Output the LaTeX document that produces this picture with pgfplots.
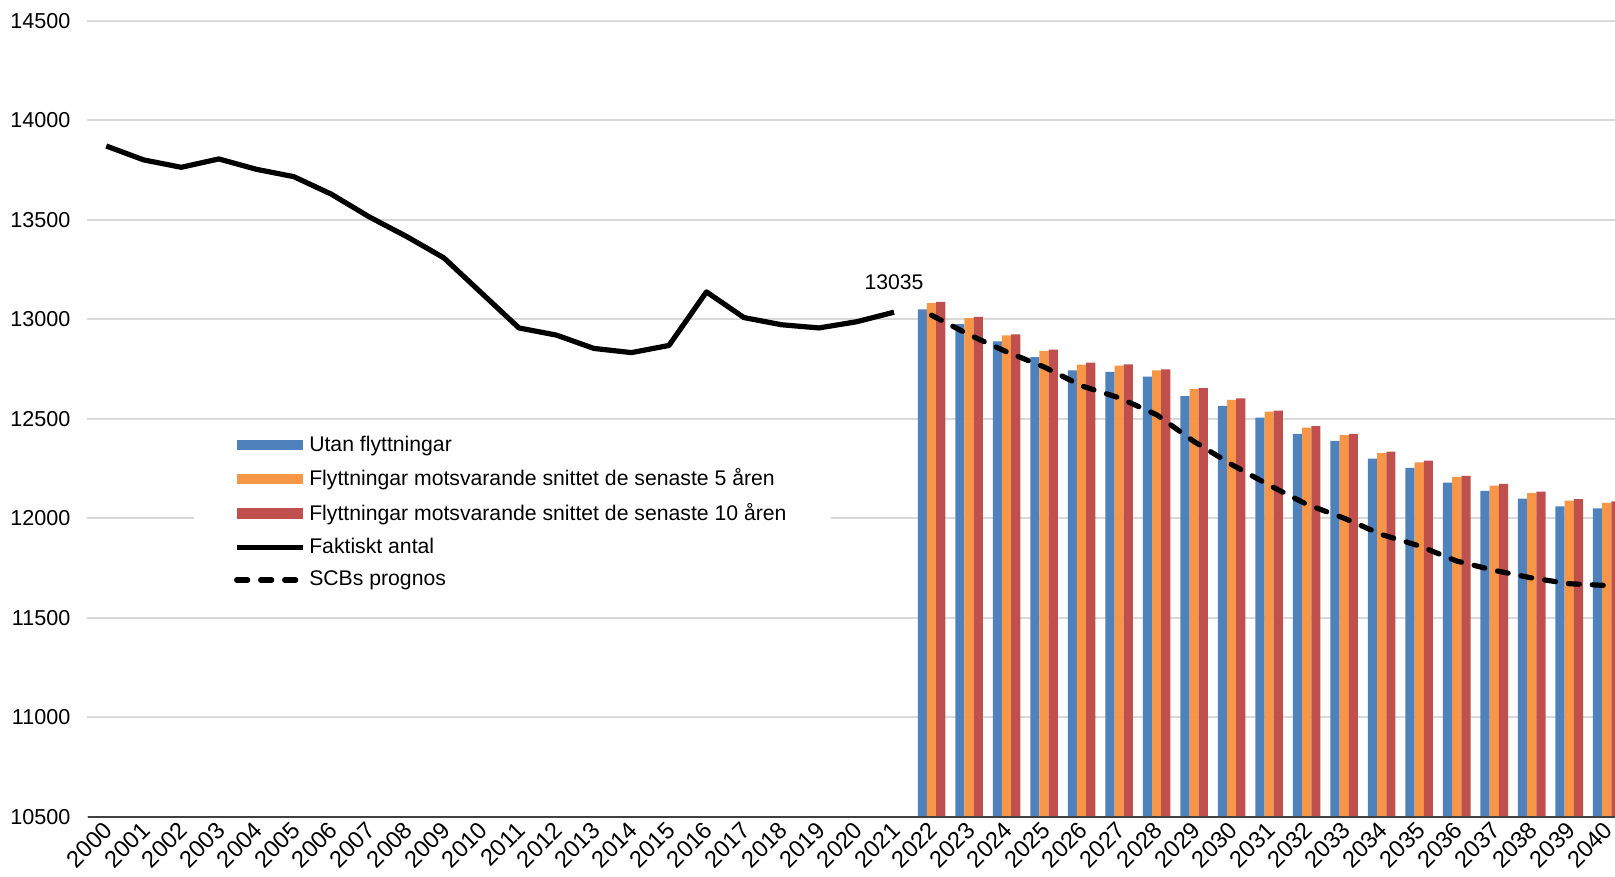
\documentclass[border=0pt]{standalone}
\usepackage{fontspec}
\setmainfont{Liberation Sans}
\usepackage{pgfplots}
\pgfplotsset{compat=1.18}

\definecolor{cblue}{RGB}{79,129,189}
\definecolor{corange}{RGB}{247,150,70}
\definecolor{cred}{RGB}{192,80,77}
\definecolor{gridgray}{RGB}{217,217,217}

% forecast years 2022-2040
\pgfplotstableread{
year utan fem tio scb
2022 13049 13081 13087 13020
2023 12975 13005 13012 12922
2024 12888 12918 12924 12836
2025 12809 12841 12847 12760
2026 12743 12772 12782 12665
2027 12735 12767 12773 12605
2028 12711 12743 12748 12520
2029 12614 12648 12653 12385
2030 12565 12594 12602 12270
2031 12505 12535 12540 12166
2032 12424 12455 12463 12070
2033 12389 12418 12424 12000
2034 12299 12327 12334 11918
2035 12253 12280 12289 11861
2036 12179 12208 12213 11785
2037 12138 12164 12173 11738
2038 12099 12126 12134 11700
2039 12060 12089 12096 11671
2040 12050 12077 12085 11662
}\prognos

\pgfplotstableread{
year antal
2000 13870
2001 13800
2002 13763
2003 13805
2004 13753
2005 13716
2006 13628
2007 13515
2008 13416
2009 13308
2010 13132
2011 12956
2012 12920
2013 12853
2014 12832
2015 12868
2016 13137
2017 13008
2018 12972
2019 12956
2020 12987
2021 13035
}\faktiskt

\begin{document}
\begin{tikzpicture}
\begin{axis}[
  scale only axis, width=763.75pt, height=398.1pt,
  xmin=1999.5, xmax=2040.22, ymin=10500, ymax=14500,
  xtick={2000,...,2040}, ytick={10500,11000,...,14500},
  scaled y ticks=false, scaled x ticks=false,
  /pgf/number format/.cd, 1000 sep={}, assume math mode=true, /pgfplots/.cd,
  ymajorgrids, grid style={line width=1pt, gridgray},
  axis line style={draw=none}, major tick length=0pt,
  yticklabel style={font=\fontsize{10.8}{13}\selectfont, xshift=-5pt},
  xticklabel style={font=\fontsize{11.8}{14}\selectfont, rotate=45, anchor=east, inner sep=1pt, yshift=-4pt, xshift=-1.5pt},
  legend cell align=left,
  legend style={at={(0.0695,0.494)}, anchor=north west, draw=none, fill=white,
    font=\fontsize{10.6}{12.6}\selectfont, inner xsep=20pt, inner ysep=4pt,
    row sep=3.3pt},
  bar leg/.style={legend image code/.code={\fill[##1] (0pt,-2.6pt) rectangle (33pt,2.6pt);}},
  line leg/.style={legend image code/.code={\draw[##1] (0pt,0pt) -- (33pt,0pt);}},
]
\addplot[ybar, bar width=0.245, bar shift=-0.245, fill=cblue, draw=none, bar leg] table[x=year, y=utan] {\prognos};
\addlegendentry{Utan flyttningar}
\addplot[ybar, bar width=0.245, bar shift=0, fill=corange, draw=none, bar leg] table[x=year, y=fem] {\prognos};
\addlegendentry{Flyttningar motsvarande snittet de senaste 5 åren}
\addplot[ybar, bar width=0.245, bar shift=0.245, fill=cred, draw=none, bar leg] table[x=year, y=tio] {\prognos};
\addlegendentry{Flyttningar motsvarande snittet de senaste 10 åren}
\addplot[black, line width=2.6pt, line join=round, line leg] table[x=year, y=antal] {\faktiskt};
\addlegendentry{Faktiskt antal}
\addplot[black, line width=2.6pt, line join=round, line cap=round, dash pattern=on 5.5pt off 6.5pt, line leg] table[x=year, y=scb] {\prognos};
\addlegendentry{SCBs prognos}
\node[font=\fontsize{10.6}{12.6}\selectfont] at (axis cs:2021,13035) [yshift=15pt] {13035};
\end{axis}
\draw[line width=1.3pt, black!75] (current axis.south west) -- (current axis.south east);
\pgfresetboundingbox
\path ([shift={(-43.75pt,-30.1pt)}]current axis.south west) rectangle ([shift={(0pt,10.3pt)}]current axis.north east);
\end{tikzpicture}
\end{document}
